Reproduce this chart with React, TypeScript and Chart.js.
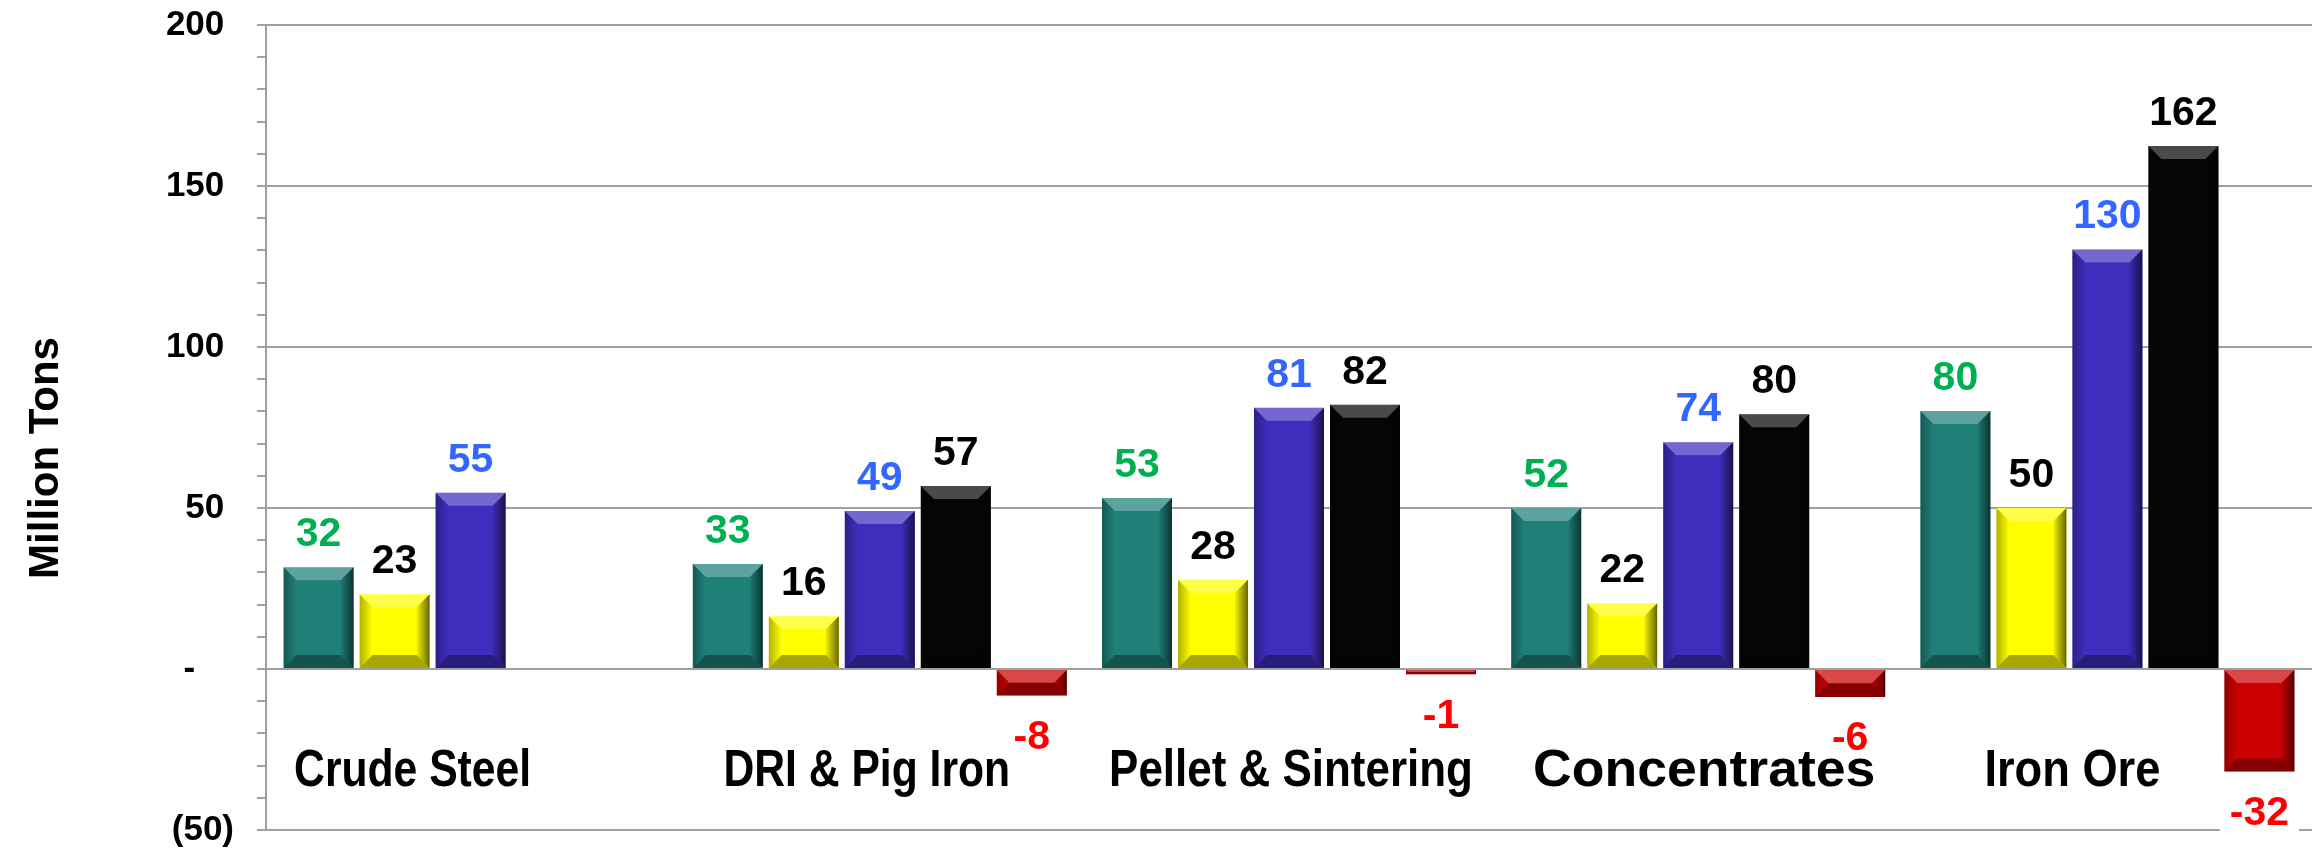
import React, { useEffect, useRef } from "react";
import { Chart, registerables } from "chart.js";

Chart.register(...registerables);

// ---------- data ----------
const categories = ["Crude Steel", "DRI & Pig Iron", "Pellet & Sintering", "Concentrates", "Iron Ore"];

// bar heights as drawn (million tons)
const tealValues = [31.6, 32.6, 53.1, 50, 80.1];
const yellowValues = [23.2, 16.4, 27.7, 20.4, 50];
const blueValues = [54.7, 49.1, 81.1, 70.4, 130.3];
const blackValues = [null, 56.8, 82.1, 79.1, 162.4];
const redValues = [null, -8.2, -1.6, -8.7, -31.8];

// value labels as printed on the chart
const tealLabels = ["32", "33", "53", "52", "80"];
const yellowLabels = ["23", "16", "28", "22", "50"];
const blueLabels = ["55", "49", "81", "74", "130"];
const blackLabels = [null, "57", "82", "80", "162"];
const redLabels = [null, "-8", "-1", "-6", "-32"];

const yMin = -50;
const yMax = 200;
const yMinorStep = 10;
const yMajorStep = 50;
const yTitle = "Million Tons";

// ---------- styles / layout ----------
const FONT = "'Liberation Sans', Arial, Helvetica, sans-serif";
const GRID = "#A0A0A0";
const barColors = ["#1F8078", "#FFFF00", "#3F2DBE", "#050505", "#CC0000"];
const labelColors = ["#00B050", "#000000", "#3366FF", "#000000", "#FF0000"];
const categoryLabelShift = [-58, -13, 2, 6, -35];
const categoryLabelStretch = [0.82, 0.82, 0.845, 1.03, 0.87];
const LABEL_SIZE = 41;
const LABEL_CAP = LABEL_SIZE * 0.716;

const seriesValues = [tealValues, yellowValues, blueValues, blackValues, redValues];
const seriesLabels = [tealLabels, yellowLabels, blueLabels, blackLabels, redLabels];

function formatTick(v: number): string {
  if (v % yMajorStep !== 0) return "";
  if (v > 0) return String(v) + "\u2008";
  if (v === 0) return "-\u2007\u2007";
  return "(" + Math.abs(v) + ")";
}

function poly(ctx: CanvasRenderingContext2D, pts: number[][], fill: any) {
  ctx.beginPath();
  ctx.moveTo(pts[0][0], pts[0][1]);
  for (let i = 1; i < pts.length; i++) ctx.lineTo(pts[i][0], pts[i][1]);
  ctx.closePath();
  ctx.fillStyle = fill;
  ctx.fill();
}

function bevel(ctx: CanvasRenderingContext2D, x0: number, x1: number, top: number, bottom: number) {
  const w = x1 - x0;
  const h = bottom - top;
  if (h <= 0) return;
  const b = Math.min(13, h / 2, w / 4);
  poly(ctx, [[x0, top], [x1, top], [x1 - b, top + b], [x0 + b, top + b]], "rgba(255,255,255,0.28)");
  poly(ctx, [[x0, bottom], [x1, bottom], [x1 - b, bottom - b], [x0 + b, bottom - b]], "rgba(0,0,0,0.35)");
  const gr = ctx.createLinearGradient(x1 - b, 0, x1, 0);
  gr.addColorStop(0, "rgba(0,0,0,0.05)");
  gr.addColorStop(1, "rgba(0,0,0,0.6)");
  poly(ctx, [[x1, top], [x1, bottom], [x1 - b, bottom - b], [x1 - b, top + b]], gr);
  const gl = ctx.createLinearGradient(x0, 0, x0 + b, 0);
  gl.addColorStop(0, "rgba(0,0,0,0.3)");
  gl.addColorStop(1, "rgba(0,0,0,0)");
  poly(ctx, [[x0, top], [x0 + b, top + b], [x0 + b, bottom - b], [x0, bottom]], gl);
}

function forEachLabel(chart: any, fn: (di: number, i: number, x: number, baseline: number, txt: string) => void) {
  chart.data.datasets.forEach((_ds: any, di: number) => {
    const meta = chart.getDatasetMeta(di);
    meta.data.forEach((bar: any, i: number) => {
      const v = seriesValues[di][i];
      const txt = seriesLabels[di][i];
      if (v == null || txt == null) return;
      const { x, y } = bar.getProps(["x", "y"], true);
      const baseline = v >= 0 ? y - 21 : y + 24 + LABEL_CAP;
      fn(di, i, x, baseline, txt);
    });
  });
}

const decorPlugin = {
  id: "decor",
  beforeDatasetsDraw(chart: any) {
    // white backgrounds of value labels (hide grid lines behind them)
    const ctx: CanvasRenderingContext2D = chart.ctx;
    ctx.save();
    ctx.font = `bold ${LABEL_SIZE}px ${FONT}`;
    ctx.fillStyle = "#FFFFFF";
    forEachLabel(chart, (_di, _i, x, baseline, txt) => {
      const tw = ctx.measureText(txt).width;
      ctx.fillRect(x - tw / 2 - 10, baseline - LABEL_CAP - 4, tw + 20, LABEL_CAP + 11);
    });
    ctx.restore();
  },
  afterDatasetsDraw(chart: any) {
    const ctx: CanvasRenderingContext2D = chart.ctx;
    const xScale = chart.scales.x;
    const yScale = chart.scales.y;
    ctx.save();

    // bevels
    chart.data.datasets.forEach((_ds: any, di: number) => {
      const meta = chart.getDatasetMeta(di);
      meta.data.forEach((bar: any, i: number) => {
        if (seriesValues[di][i] == null) return;
        const { x, y, base, width } = bar.getProps(["x", "y", "base", "width"], true);
        bevel(ctx, x - width / 2, x + width / 2, Math.min(y, base), Math.max(y, base));
      });
    });

    // value labels
    ctx.font = `bold ${LABEL_SIZE}px ${FONT}`;
    ctx.textAlign = "center";
    ctx.textBaseline = "alphabetic";
    forEachLabel(chart, (di, _i, x, baseline, txt) => {
      ctx.fillStyle = labelColors[di];
      ctx.fillText(txt, x, baseline);
    });

    // category labels inside the plot
    ctx.font = `bold 52px ${FONT}`;
    ctx.fillStyle = "#000000";
    ctx.textAlign = "center";
    const catBaseline = yScale.getPixelForValue(0) + 117;
    categories.forEach((c, i) => {
      const cx = xScale.getPixelForValue(i) + categoryLabelShift[i];
      ctx.save();
      ctx.translate(cx, catBaseline);
      ctx.scale(categoryLabelStretch[i], 1);
      ctx.fillText(c, 0, 0);
      ctx.restore();
    });

    // y axis title
    ctx.font = `bold 42px ${FONT}`;
    ctx.fillStyle = "#000000";
    ctx.textAlign = "center";
    ctx.translate(58, 458);
    ctx.rotate(-Math.PI / 2);
    ctx.fillText(yTitle, 0, 0);

    ctx.restore();
  },
};

export default function App() {
  const ref = useRef<HTMLCanvasElement | null>(null);

  useEffect(() => {
    document.body.style.margin = "0";
    const canvas = ref.current;
    if (!canvas) return;
    const chart = new Chart(canvas, {
      type: "bar",
      data: {
        labels: categories,
        datasets: seriesValues.map((vals, i) => ({
          label: "s" + i,
          data: vals as any,
          backgroundColor: barColors[i],
          borderWidth: 0,
          categoryPercentage: 0.9286,
          barPercentage: 0.921,
        })),
      },
      options: {
        responsive: false,
        maintainAspectRatio: false,
        animation: false,
        devicePixelRatio: 1,
        layout: { padding: { left: 0, right: 9, top: 25, bottom: 23 } },
        plugins: {
          legend: { display: false },
          tooltip: { enabled: false },
          title: { display: false },
        },
        scales: {
          x: {
            display: false,
            grid: { display: false },
          },
          y: {
            min: yMin,
            max: yMax,
            afterFit: (s: any) => {
              s.width = 266;
              s.paddingTop = 0;
              s.paddingBottom = 0;
            },
            border: { display: true, color: GRID, width: 2 },
            grid: {
              color: (c: any) =>
                c.tick && c.tick.value % yMajorStep === 0 ? GRID : "rgba(0,0,0,0)",
              lineWidth: 2,
              tickColor: GRID,
              tickWidth: 2,
              tickLength: 9,
              drawTicks: true,
            },
            ticks: {
              stepSize: yMinorStep,
              autoSkip: false,
              padding: 23,
              color: "#000000",
              font: { family: FONT, size: 35, weight: "bold" },
              callback: (v: any) => formatTick(Number(v)),
            },
          },
        },
      },
      plugins: [decorPlugin],
    });
    return () => chart.destroy();
  }, []);

  return (
    <div style={{ width: 2321, height: 853, background: "#FFFFFF" }}>
      <canvas ref={ref} width={2321} height={853} style={{ display: "block", width: 2321, height: 853 }} />
    </div>
  );
}
